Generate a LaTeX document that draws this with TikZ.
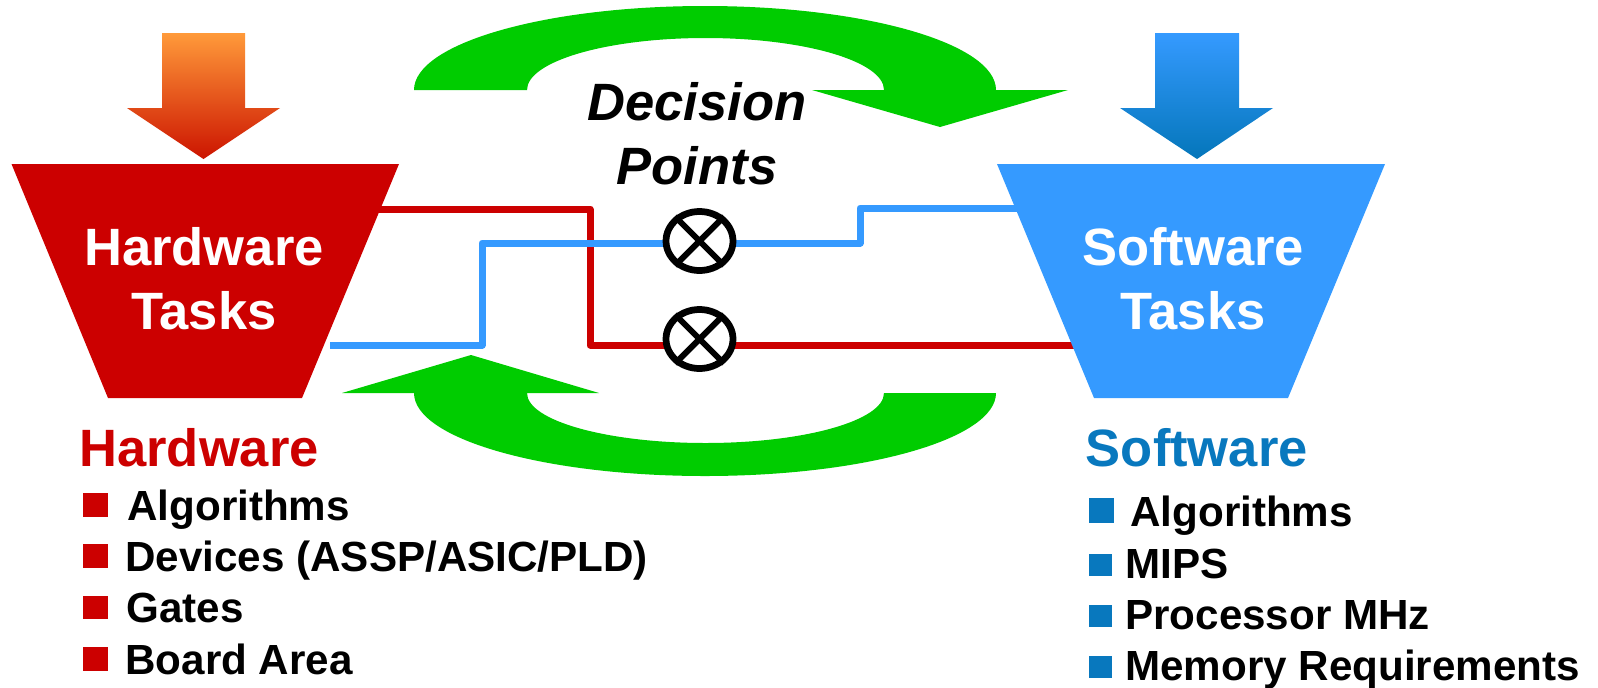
\documentclass[tikz,border=0pt]{standalone}
\usepackage{fontspec}
\setmainfont{Liberation Sans}
\usetikzlibrary{shapes.geometric}

\definecolor{hwred}{RGB}{204,0,0}
\definecolor{swfill}{RGB}{53,154,255}
\definecolor{swdark}{RGB}{8,120,190}
\definecolor{loopgreen}{RGB}{0,204,0}
\definecolor{orangetop}{RGB}{255,154,58}
\definecolor{orangebot}{RGB}{204,20,0}
\definecolor{bluetop}{RGB}{53,154,255}
\definecolor{bluebot}{RGB}{4,118,186}

\begin{document}
\begin{tikzpicture}[x=0.02cm,y=-0.02cm,
  wire/.style={line width=0.14cm,line join=round},
  redwire/.style={wire,draw=hwred},
  bluewire/.style={wire,draw=swfill},
  mixer/.style={ellipse,draw=black,line width=0.135cm,fill=white,inner sep=0pt,
                minimum width=1.34cm,minimum height=1.18cm},
  cross/.style={line width=0.12cm,draw=black},
  tasktext/.style={font=\fontsize{29.9pt}{36pt}\selectfont\bfseries,text=white,inner sep=0pt,anchor=base},
  decisiontext/.style={font=\fontsize{29.9pt}{36pt}\selectfont\bfseries\itshape,text=black,inner sep=0pt,anchor=base},
  headtext/.style={font=\fontsize{29.9pt}{36pt}\selectfont\bfseries,inner sep=0pt,anchor=base west},
  itemtext/.style={font=\fontsize{24pt}{29pt}\selectfont\bfseries,text=black,inner sep=0pt,anchor=base west},
]
\useasboundingbox (0,0) rectangle (1598,687);

% feedback loops
\fill[loopgreen] (414,90) arc[start angle=180,end angle=360,x radius=291,y radius=84]
  -- (1068,90) -- (940,127) -- (812,90) -- (884,90)
  arc[start angle=0,end angle=-180,x radius=178.5,y radius=52] -- cycle;
\fill[loopgreen] (996,393) arc[start angle=0,end angle=180,x radius=291,y radius=83]
  -- (342,393) -- (471,355) -- (599,393) -- (527,393)
  arc[start angle=180,end angle=0,x radius=178.5,y radius=50] -- cycle;

% wires between the two task blocks
\coordinate (hwRed) at (370,209);
\coordinate (redDrop) at (590,345);
\coordinate (swRed) at (1085,345);
\draw[redwire] (hwRed) -| (redDrop) -- (swRed);

\coordinate (hwBlue) at (330,345);
\coordinate (blueUp) at (482,243);
\coordinate (blueStep) at (860,208);
\coordinate (swBlue) at (1030,208);
\draw[bluewire] (hwBlue) -| (blueUp) -| (blueStep) -- (swBlue);

% task blocks
\fill[hwred] (11.5,164) -- (399,164) -- (302,398) -- (108,398) -- cycle;
\fill[swfill] (997,164) -- (1385,164) -- (1288,398) -- (1094,398) -- cycle;

% input arrows
\shade[top color=orangetop,bottom color=orangebot]
  (162,33) -- (245,33) -- (245,108) -- (280,108) -- (203.5,159) -- (127,108) -- (162,108) -- cycle;
\shade[top color=bluetop,bottom color=bluebot]
  (1155,33) -- (1239,33) -- (1239,108) -- (1273,108) -- (1197,159) -- (1120,108) -- (1155,108) -- cycle;

% decision points
\node[mixer] (x1) at (699.5,241) {};
\draw[cross] (x1.45) -- (x1.225) (x1.135) -- (x1.315);
\node[mixer] (x2) at (699.5,339) {};
\draw[cross] (x2.45) -- (x2.225) (x2.135) -- (x2.315);

% labels
\node[tasktext] (hwT1) at (204,265) {Hardware};
\node[tasktext] (hwT2) at (204,329) {Tasks};
\node[tasktext] (swT1) at (1193,265) {Software};
\node[tasktext] (swT2) at (1193,329) {Tasks};
\node[decisiontext] (dp1) at (697,120.7) {Decision};
\node[decisiontext] (dp2) at (697,184) {Points};

% hardware list
\node[headtext,text=hwred] (hwHead) at (79,466.7) {Hardware};
\fill[hwred] (82.5,493) rectangle (108,517);
\fill[hwred] (82.5,544) rectangle (108,568);
\fill[hwred] (82.5,596) rectangle (108,619);
\fill[hwred] (82.5,647) rectangle (108,671);
\node[itemtext] (hw1) at (127,520.7) {Algorithms};
\node[itemtext] (hw2) at (125,571.7) {Devices (ASSP/ASIC/PLD)};
\node[itemtext] (hw3) at (126,622) {Gates};
\node[itemtext] (hw4) at (125,674) {Board Area};

% software list
\node[headtext,text=swdark] (swHead) at (1085.5,466.7) {Software};
\fill[swdark] (1089,497.7) rectangle (1114,522.7);
\fill[swdark] (1089,554) rectangle (1111.5,576);
\fill[swdark] (1089,605) rectangle (1111.5,626.7);
\fill[swdark] (1089,656) rectangle (1111.5,677.7);
\node[itemtext] (sw1) at (1130,526) {Algorithms};
\node[itemtext] (sw2) at (1125,578.3) {MIPS};
\node[itemtext] (sw3) at (1125,629.3) {Processor MHz};
\node[itemtext] (sw4) at (1125,680) {Memory Requirements};
\end{tikzpicture}
\end{document}
